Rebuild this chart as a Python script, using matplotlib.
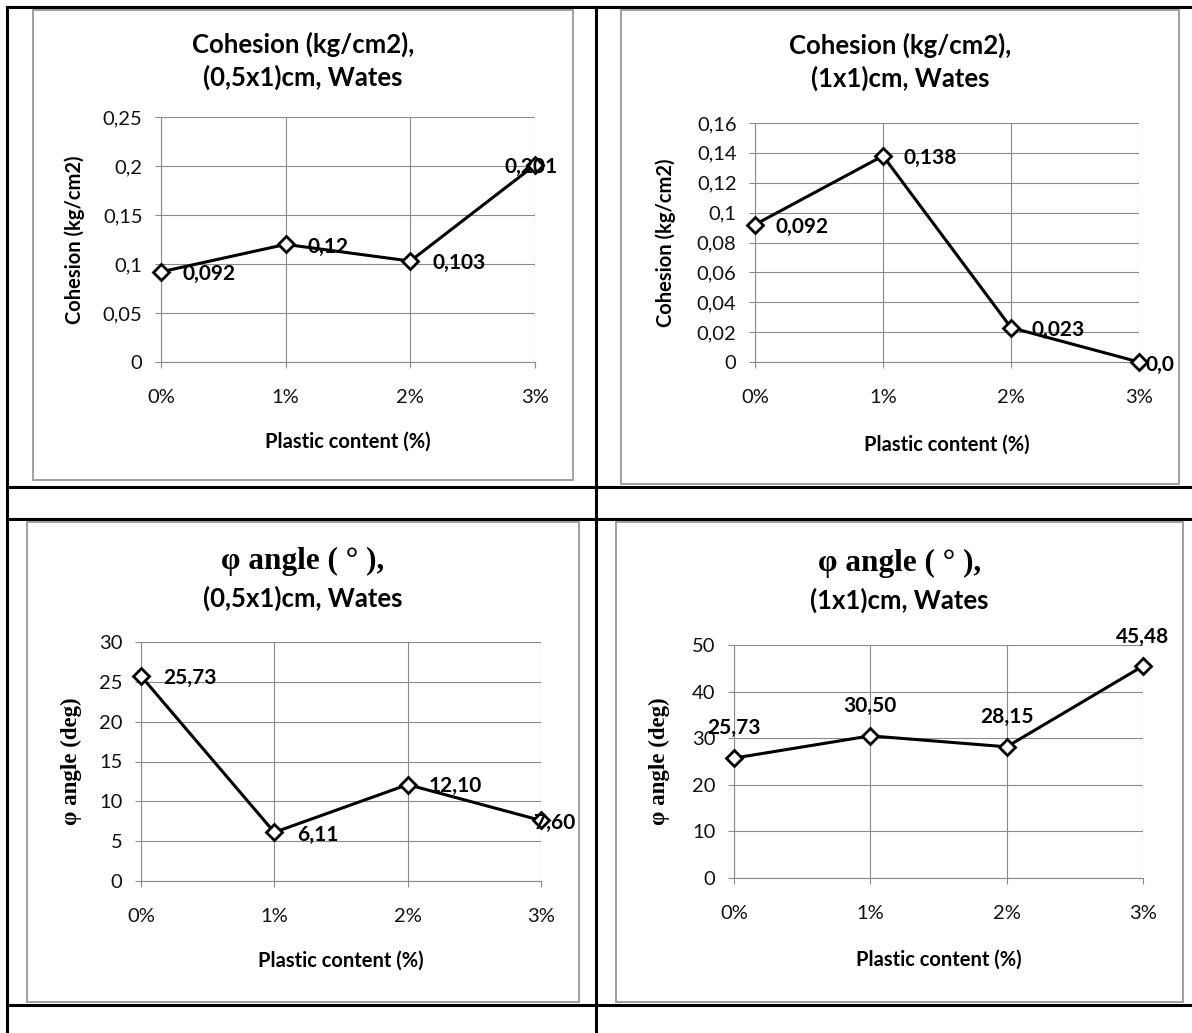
import matplotlib
matplotlib.use("Agg")
import matplotlib.pyplot as plt
from matplotlib.lines import Line2D
from matplotlib.patches import Rectangle

# data
categories = ["0%", "1%", "2%", "3%"]

coh_05 = [0.092, 0.12, 0.103, 0.201]
coh_05_labels = ["0,092", "0,12", "0,103", "0,201"]
coh_10 = [0.092, 0.138, 0.023, 0.0]
coh_10_labels = ["0,092", "0,138", "0,023", "0,0"]
phi_05 = [25.73, 6.11, 12.10, 7.60]
phi_05_labels = ["25,73", "6,11", "12,10", "7,60"]
phi_10 = [25.73, 30.50, 28.15, 45.48]
phi_10_labels = ["25,73", "30,50", "28,15", "45,48"]

coh_05_ticks = [0, 0.05, 0.1, 0.15, 0.2, 0.25]
coh_05_ticklabels = ["0", "0,05", "0,1", "0,15", "0,2", "0,25"]
coh_10_ticks = [0, 0.02, 0.04, 0.06, 0.08, 0.1, 0.12, 0.14, 0.16]
coh_10_ticklabels = ["0", "0,02", "0,04", "0,06", "0,08", "0,1", "0,12", "0,14", "0,16"]
phi_05_ticks = [0, 5, 10, 15, 20, 25, 30]
phi_05_ticklabels = ["0", "5", "10", "15", "20", "25", "30"]
phi_10_ticks = [0, 10, 20, 30, 40, 50]
phi_10_ticklabels = ["0", "10", "20", "30", "40", "50"]

W, H = 1192, 1033
SANS = "Lato"
SERIF = "Liberation Serif"
GRID = "#8a8a8a"

fig = plt.figure(figsize=(W / 100, H / 100), dpi=100)


def fx(x):
    return x / W


def fy(y):
    return 1 - y / H


def pt(px):
    return px * 0.72


def table_line(x0, y0, x1, y1):
    fig.add_artist(Line2D([fx(x0), fx(x1)], [fy(y0), fy(y1)], color="black",
                          lw=2.2, transform=fig.transFigure))


def chart(box, plot, title1, title2, serif, ylabel, values, labels,
          ticks, ticklabels, offsets, title_y, ylabel_x, xlabel_y):
    bx0, by0, bx1, by1 = box
    fig.add_artist(Rectangle((fx(bx0), fy(by1)), (bx1 - bx0) / W, (by1 - by0) / H,
                             transform=fig.transFigure, fill=False,
                             edgecolor="#a0a0a0", lw=1.4))
    px0, py0, px1, py1 = plot
    ax = fig.add_axes([fx(px0), fy(py1), (px1 - px0) / W, (py1 - py0) / H])
    ax.plot(categories, values, color="black", lw=2.2, marker="D", ms=8.5,
            mfc="white", mec="black", mew=2.0, clip_on=False, zorder=5)
    ax.set_xlim(0, 3)
    ax.set_ylim(ticks[0], ticks[-1])
    ax.set_yticks(ticks)
    ax.set_yticklabels(ticklabels, family=SANS, fontsize=14.5, color="#111111")
    for lab in ax.get_xticklabels():
        lab.set_family(SANS)
        lab.set_fontsize(14.5)
        lab.set_color("#111111")
    ax.grid(True, color=GRID, lw=0.8)
    ax.set_axisbelow(True)
    for s in ["top", "right"]:
        ax.spines[s].set_visible(False)
    for s in ["left", "bottom"]:
        ax.spines[s].set_color(GRID)
        ax.spines[s].set_linewidth(0.8)
    ax.tick_params(axis="both", direction="out", length=4.3, width=0.8, color=GRID)
    ax.tick_params(axis="x", pad=15)
    ax.tick_params(axis="y", pad=9)

    for cat, val, lab, (dx, dy, ha) in zip(categories, values, labels, offsets):
        ax.annotate(lab, (cat, val), xytext=(pt(dx), pt(dy)), textcoords="offset points",
                    ha=ha, va="center", family=SANS, fontweight="bold", fontsize=15,
                    zorder=6, annotation_clip=False)

    cx = (bx0 + bx1) / 2
    if serif:
        fig.text(fx(cx), fy(title_y[0]), title1, ha="center", va="center",
                 family=SERIF, fontweight="bold", fontsize=22.5)
        ylab_font = dict(family=SERIF, fontweight="bold", fontsize=16.5)
    else:
        fig.text(fx(cx), fy(title_y[0]), title1, ha="center", va="center",
                 family=SANS, fontweight="bold", fontsize=18.5)
        ylab_font = dict(family=SANS, fontweight="bold", fontsize=14.5)
    fig.text(fx(cx), fy(title_y[1]), title2, ha="center", va="center",
             family=SANS, fontweight="bold", fontsize=18.5)
    fig.text(fx(ylabel_x), fy((py0 + py1) / 2), ylabel, rotation=90,
             ha="center", va="center", **ylab_font)
    fig.text(fx((px0 + px1) / 2), fy(xlabel_y), "Plastic content (%)",
             ha="center", va="center", family=SANS, fontweight="bold", fontsize=14.5)
    return ax


# table rules around the charts
table_line(7, 7, W, 7)
table_line(7, 487, W, 487)
table_line(7, 519, W, 519)
table_line(7, 1005, W, 1005)
table_line(7, 7, 7, H)
table_line(596, 7, 596, H)

chart((33, 10, 573, 480), (161, 117, 535, 362),
      "Cohesion (kg/cm2),", "(0,5x1)cm, Wates", False, "Cohesion (kg/cm2)",
      coh_05, coh_05_labels, coh_05_ticks, coh_05_ticklabels,
      [(21, -2, "left"), (22, -3, "left"), (22, -2, "left"), (-4, -2, "center")],
      (44, 77), 75, 442)

chart((621, 10, 1179, 484), (755, 123, 1139, 362),
      "Cohesion (kg/cm2),", "(1x1)cm, Wates", False, "Cohesion (kg/cm2)",
      coh_10, coh_10_labels, coh_10_ticks, coh_10_ticklabels,
      [(20, -2, "left"), (20, -2, "left"), (21, -2, "left"), (21, -3, "center")],
      (45, 78), 666, 445)

chart((27, 522, 579, 1002), (141, 642, 541, 881),
      "\u03c6 angle ( \u00b0 ),", "(0,5x1)cm, Wates", True, "\u03c6 angle (deg)",
      phi_05, phi_05_labels, phi_05_ticks, phi_05_ticklabels,
      [(22, -2, "left"), (23, -3, "left"), (21, -1, "left"), (14, -3, "center")],
      (561, 598), 71, 961)

chart((616, 522, 1183, 1002), (734, 645, 1143, 878),
      "\u03c6 angle ( \u00b0 ),", "(1x1)cm, Wates", True, "\u03c6 angle (deg)",
      phi_10, phi_10_labels, phi_10_ticks, phi_10_ticklabels,
      [(0, 30, "center"), (0, 30, "center"), (0, 30, "center"), (0, 29, "center")],
      (563, 600), 659, 960)

fig.savefig("out.png", dpi=100, facecolor="white")
